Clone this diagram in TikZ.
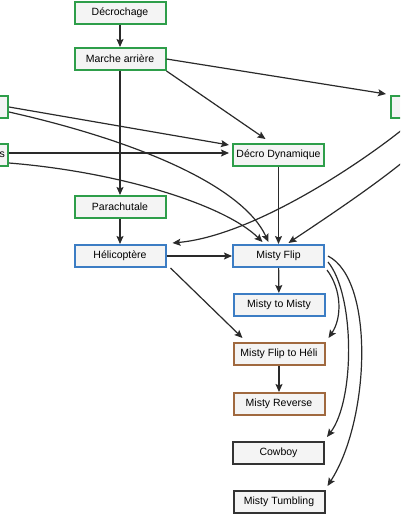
\documentclass[tikz,border=0pt]{standalone}
\usepackage{fontspec}
\setmainfont{Liberation Sans}
\usetikzlibrary{arrows.meta}
\definecolor{gborder}{HTML}{2E9E4A}
\definecolor{bborder}{HTML}{3C7DC4}
\definecolor{brborder}{HTML}{A0693F}
\definecolor{dborder}{HTML}{333333}
\definecolor{boxfill}{HTML}{F4F4F4}
\definecolor{edgecol}{HTML}{2A2A2A}
\tikzset{
  basebox/.style={draw, fill=boxfill, line width=2pt, minimum width=91pt, minimum height=22pt, inner sep=3pt, font=\fontsize{10.5}{12}\selectfont},
  gbox/.style={basebox, draw=gborder},
  bbox/.style={basebox, draw=bborder},
  brbox/.style={basebox, draw=brborder},
  dbox/.style={basebox, draw=dborder},
  arr/.style={draw=edgecol, line width=1.2pt, -{Stealth[length=8pt,width=7pt,inset=1.5pt]}}
}
\begin{document}
\begin{tikzpicture}[x=1pt,y=-1pt]
\useasboundingbox (0,0) rectangle (400,516);
\clip (0,0) rectangle (400,516);
% nodes
\node[gbox] (dec) at (120,13) {Décrochage};
\node[gbox] (ma) at (120,59) {Marche arrière};
\node[gbox, anchor=east] (l1) at (9,107) {};
\node[gbox, anchor=east, text width=90pt, align=right] (l2) at (9,155) {Wingovers};
\node[gbox, anchor=west] (rn) at (390,107) {};
\node[gbox] (dd) at (278.5,155) {Décro Dynamique};
\node[gbox] (para) at (120,207) {Parachutale};
\node[bbox] (heli) at (120,256) {Hélicoptère};
\node[bbox] (mf) at (278.5,256) {Misty Flip};
\node[bbox] (mtm) at (279,305) {Misty to Misty};
\node[brbox] (mfh) at (279,354) {Misty Flip to Héli};
\node[brbox] (mr) at (279,404) {Misty Reverse};
\node[dbox] (cow) at (278.5,453) {Cowboy};
\node[dbox] (mt) at (279,502) {Misty Tumbling};
% edges
\draw[arr] (dec) -- (ma);
\draw[arr] (ma.east) -- ([xshift=-4pt,yshift=1pt]rn.north west);
\draw[arr] (ma.south east) -- ([xshift=-13pt,yshift=4pt]dd.north);
\draw[arr] (ma) -- (para);
\draw[arr] (l1.east) -- ([xshift=-3pt,yshift=10pt]dd.west);
\draw[arr] ([yshift=-5pt]l1.east) .. controls (142,142) and (243,187) .. ([xshift=-10pt,yshift=2pt]mf.north);
\draw[arr] ([yshift=2pt]l2.east) -- ([xshift=-3pt,yshift=2pt]dd.west);
\draw[arr] ([yshift=-8pt]l2.east) .. controls (120,172) and (225,205) .. ([xshift=-16pt,yshift=2pt]mf.north);
\draw[arr] ([xshift=25pt]rn.south west) .. controls (380,150) and (260,235) .. ([xshift=6pt,yshift=1pt]heli.north east);
\draw[arr] ([xshift=55pt]rn.south west) .. controls (430,150) and (330,215) .. ([xshift=10pt,yshift=1pt]mf.north);
\draw[arr] (dd) -- (mf);
\draw[arr] (heli) -- (mf);
\draw[arr] ([xshift=4pt]heli.south east) -- ([xshift=10pt,yshift=4pt]mfh.north west);
\draw[arr] (para) -- (heli);
\draw[arr] (mf) -- (mtm);
\draw[arr] ([xshift=2pt,yshift=-2pt]mf.south east) .. controls (342,290) and (342,318) .. ([xshift=3pt,yshift=4pt]mfh.north east);
\draw[arr] (mfh) -- (mr);
\draw[arr] ([xshift=3pt,yshift=-6pt]mf.east) .. controls (355,295) and (355,400) .. ([xshift=2pt,yshift=4pt]cow.north east);
\draw[arr] ([xshift=3pt]mf.east) .. controls (375,280) and (370,420) .. ([xshift=2pt,yshift=4pt]mt.north east);
\end{tikzpicture}
\end{document}
